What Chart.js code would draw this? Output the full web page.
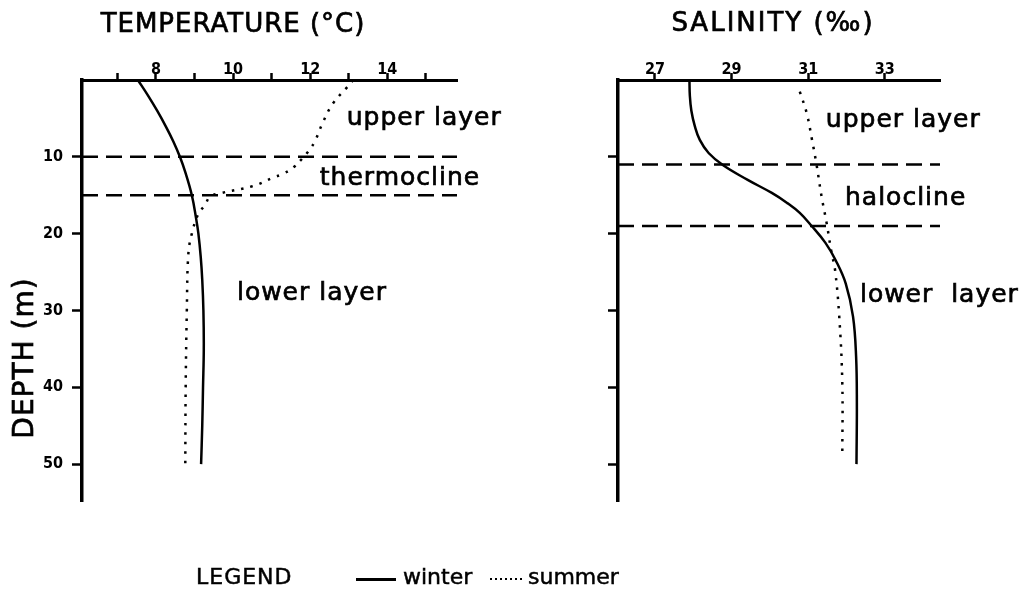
<!DOCTYPE html>
<html>
<head>
<meta charset="utf-8">
<script src="https://cdn.jsdelivr.net/npm/chart.js@4.4.1/dist/chart.umd.min.js"></script>
<style>
    body { margin: 0; background: #fff; }
    #wrap { position: relative; width: 1034px; height: 593px; overflow: hidden; background: #fff; }
    canvas { position: absolute; top: 0; }
    #tempChart { left: 0; }
    #salChart { left: 540px; }
    .lg { position: absolute; top: 564px; font-family: 'DejaVu Sans', sans-serif; font-size: 22px; line-height: 26px; color: #000; white-space: nowrap; -webkit-text-stroke: 0.5px #000; }
    .swatch { position: absolute; top: 578px; width: 40px; height: 2.5px; background: #000; }
    .swatch.dot { width: 32px; height: 2px; background: repeating-linear-gradient(to right, #000 0 2px, transparent 2px 5px); }
</style>
</head>
<body>
<div id="wrap">
    <canvas id="tempChart" width="540" height="593"></canvas>
    <canvas id="salChart" width="494" height="593"></canvas>
    <span class="lg" style="left:196px; letter-spacing:1px;">LEGEND</span>
    <div class="swatch" style="left:356px;"></div>
    <span class="lg" style="left:403px;">winter</span>
    <div class="swatch dot" style="left:490px;"></div>
    <span class="lg" style="left:528px;">summer</span>
</div>
<script>
// Axis ticks
const depthTicks = [10, 20, 30, 40, 50];
const tempTicks = [7, 8, 9, 10, 11, 12, 13, 14, 15];
const tempTickLabels = ['', '8', '', '10', '', '12', '', '14', ''];
const salTicks = [27, 29, 31, 33];
const salTickLabels = ['27', '29', '31', '33'];

// Temperature profiles (depth m -> °C)
const tempWinterDepth = [0, 2, 4, 6, 8, 10, 12, 15, 18, 20, 23, 26, 30, 35, 40, 45, 50];
const tempWinter = [7.53, 7.79, 8.03, 8.25, 8.45, 8.62, 8.76, 8.93, 9.04, 9.1, 9.16, 9.2, 9.23, 9.24, 9.22, 9.2, 9.17];
const tempSummerDepth = [0, 1, 3, 5.4, 8, 9.3, 10.2, 11.4, 12.2, 12.7, 13.8, 14.75, 15.2, 16.3, 17.4, 20, 22.6, 30, 40, 50];
const tempSummer = [13.12, 12.95, 12.6, 12.34, 12.12, 11.95, 11.8, 11.56, 11.3, 11.04, 10.52, 9.66, 9.4, 9.27, 9.1, 8.93, 8.84, 8.8, 8.77, 8.76];

// Salinity profiles (depth m -> ‰)
const salWinterDepth = [0, 2, 4, 6, 7.8, 9.5, 11.1, 13, 14.7, 16, 17.3, 19, 21.2, 23.5, 26.5, 30.8, 36, 42, 50];
const salWinter = [27.9, 27.91, 27.95, 28.04, 28.17, 28.4, 28.78, 29.42, 30.05, 30.45, 30.78, 31.09, 31.45, 31.72, 31.98, 32.17, 32.25, 32.27, 32.26];
const salSummerDepth = [1.5, 4.3, 7.8, 11.1, 15.2, 18.6, 22.5, 24.7, 30.8, 39.5, 49];
const salSummer = [30.78, 30.96, 31.1, 31.22, 31.35, 31.48, 31.61, 31.7, 31.81, 31.89, 31.89];

// Layer boundaries (depth m)
const tempLayers = [10, 15];
const salLayers = [11, 19];

const tickFont = { family: "'Liberation Sans Narrow', 'DejaVu Sans Condensed', sans-serif", size: 16, weight: 'bold' };

function toPoints(depths, values) {
    return depths.map((d, i) => ({ x: values[i], y: d }));
}

function heavyText(ctx, text, x, y) {
    ctx.fillText(text, x, y);
    ctx.strokeText(text, x, y);
}

// dashed layer lines, layer names and titles
const layerPlugin = {
    id: 'layers',
    afterDatasetsDraw(chart, args, opts) {
        const { ctx, chartArea } = chart;
        const x = chart.scales.x, y = chart.scales.y;
        ctx.save();
        ctx.strokeStyle = '#000';
        ctx.lineWidth = 2.5;
        ctx.setLineDash([16, 8]);
        opts.boundaries.forEach(d => {
            const py = y.getPixelForValue(d);
            ctx.beginPath();
            ctx.moveTo(chartArea.left, py);
            ctx.lineTo(chartArea.right, py);
            ctx.stroke();
        });
        ctx.setLineDash([]);
        ctx.fillStyle = '#000';
        ctx.lineWidth = 0.7;
        ctx.font = '25px "DejaVu Sans", sans-serif';
        ctx.letterSpacing = '1px';
        ctx.textBaseline = 'alphabetic';
        ctx.textAlign = 'left';
        opts.notes.forEach(n => {
            heavyText(ctx, n.text, x.getPixelForValue(n.x), y.getPixelForValue(n.y));
        });
        ctx.font = '26px "DejaVu Sans", sans-serif';
        ctx.letterSpacing = opts.title.spacing;
        ctx.textAlign = 'center';
        heavyText(ctx, opts.title.text, opts.title.cx, opts.title.baseline);
        if (opts.yTitle) {
            ctx.letterSpacing = '1px';
            ctx.translate(opts.yTitle.cx, opts.yTitle.cy);
            ctx.rotate(-Math.PI / 2);
            ctx.font = '28px "DejaVu Sans", sans-serif';
            ctx.textBaseline = 'middle';
            heavyText(ctx, opts.yTitle.text, 0, 0);
        }
        ctx.restore();
    }
};

function makeChart(id, cfg) {
    const ctx = document.getElementById(id).getContext('2d');
    return new Chart(ctx, {
        type: 'scatter',
        data: {
            datasets: [{
                label: 'winter',
                data: cfg.winter,
                showLine: true,
                borderColor: '#000',
                borderWidth: 2.5,
                pointRadius: 0,
                tension: 0.4
            }, {
                label: 'summer',
                data: cfg.summer,
                showLine: true,
                borderColor: '#000',
                borderWidth: 2.5,
                borderDash: [2.5, 7],
                pointRadius: 0,
                tension: 0.4
            }]
        },
        options: {
            responsive: false,
            animation: false,
            layout: { padding: { left: 0, right: cfg.padRight, top: 0, bottom: 92 } },
            scales: {
                x: {
                    type: 'linear',
                    position: 'top',
                    min: cfg.xMin,
                    max: cfg.xMax,
                    afterBuildTicks: s => { s.ticks = cfg.ticks.map(v => ({ value: v })); },
                    afterFit: s => { s.height = 80; },
                    grid: { drawOnChartArea: false, tickLength: 7, tickWidth: 2.5, tickColor: '#000' },
                    border: { display: true, width: 3, color: '#000' },
                    ticks: {
                        color: '#000',
                        font: tickFont,
                        padding: -6,
                        maxRotation: 0,
                        autoSkip: false,
                        callback: (v, i) => cfg.tickLabels[i]
                    }
                },
                y: {
                    type: 'linear',
                    reverse: true,
                    min: 0,
                    max: 54.8,
                    afterBuildTicks: s => { s.ticks = depthTicks.map(v => ({ value: v })); },
                    afterFit: s => { s.width = cfg.yWidth; },
                    grid: { drawOnChartArea: false, tickLength: 10, tickWidth: 2.5, tickColor: '#000' },
                    border: { display: true, width: 3.5, color: '#000' },
                    ticks: {
                        color: '#000',
                        font: tickFont,
                        padding: 9,
                        autoSkip: false,
                        callback: v => cfg.showDepth ? String(v) : ''
                    }
                }
            },
            plugins: {
                legend: { display: false },
                tooltip: { enabled: false },
                layers: {
                    boundaries: cfg.layers,
                    notes: cfg.notes,
                    title: cfg.title,
                    yTitle: cfg.yTitle
                }
            }
        },
        plugins: [layerPlugin]
    });
}

makeChart('tempChart', {
    winter: toPoints(tempWinterDepth, tempWinter),
    summer: toPoints(tempSummerDepth, tempSummer),
    xMin: 6.08, xMax: 15.81,
    ticks: tempTicks, tickLabels: tempTickLabels,
    yWidth: 82, padRight: 83, showDepth: true,
    layers: tempLayers,
    notes: [
        { text: 'upper layer', x: 12.95, y: 5.86 },
        { text: 'thermocline', x: 12.25, y: 13.67 },
        { text: 'lower layer', x: 10.1, y: 28.6 }
    ],
    title: { text: 'TEMPERATURE (°C)', cx: 233, baseline: 32, spacing: '1px' },
    yTitle: { text: 'DEPTH (m)', cx: 26, cy: 358 }
});

makeChart('salChart', {
    winter: toPoints(salWinterDepth, salWinter),
    summer: toPoints(salSummerDepth, salSummer),
    xMin: 26.035, xMax: 34.44,
    ticks: salTicks, tickLabels: salTickLabels,
    yWidth: 78, padRight: 94, showDepth: false,
    layers: salLayers,
    notes: [
        { text: 'upper layer', x: 31.46, y: 6.08 },
        { text: 'halocline', x: 31.96, y: 16.3 },
        { text: 'lower  layer', x: 32.35, y: 28.9 }
    ],
    title: { text: 'SALINITY (‰)', cx: 233, baseline: 31, spacing: '2px' }
});
</script>
</body>
</html>
